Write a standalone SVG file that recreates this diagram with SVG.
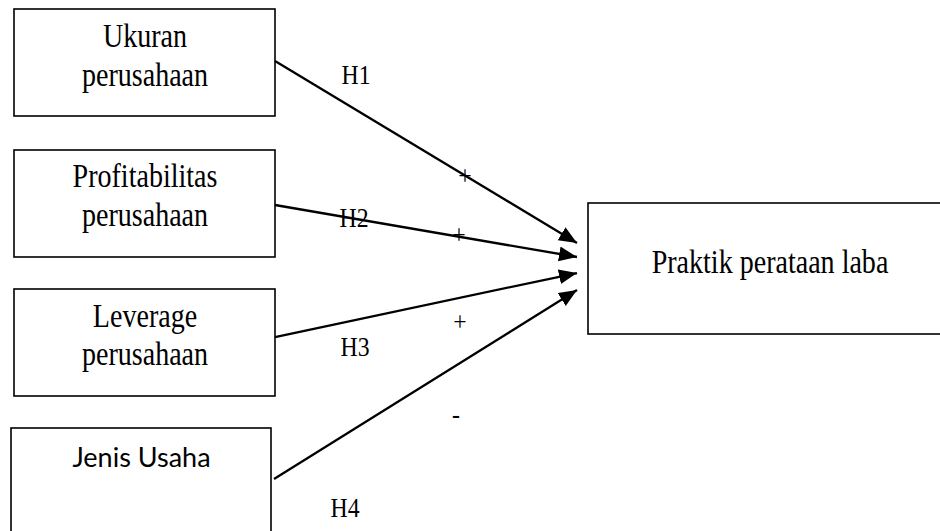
<svg xmlns="http://www.w3.org/2000/svg" width="940" height="531" viewBox="0 0 940 531">
<defs>
<style>
.box{fill:#fff;stroke:#000;stroke-width:1.6}
.t{font-family:"Liberation Serif","Times New Roman",serif;font-size:33px;fill:#000;text-anchor:middle}
.lbl{font-family:"Liberation Serif","Times New Roman",serif;font-size:27px;fill:#000;text-anchor:middle}
.s{font-family:"Lato","Liberation Sans",sans-serif;font-size:27px;fill:#000;text-anchor:middle}
.c{fill:none;stroke:#000;stroke-width:2.3}
</style>
<marker id="ah" markerUnits="userSpaceOnUse" markerWidth="19" markerHeight="16" refX="18" refY="7.5" orient="auto">
<path d="M0,0 L18,7.5 L0,15 Z" fill="#000"/>
</marker>
</defs>
<rect width="940" height="531" fill="#fff"/>
<g id="ukuran">
<rect class="box" x="14" y="9" width="261" height="107"/>
<text class="t" transform="translate(145 47) scale(0.85 1)">Ukuran</text>
<text class="t" transform="translate(145 86) scale(0.85 1)">perusahaan</text>
</g>
<g id="profitabilitas">
<rect class="box" x="14" y="150" width="261" height="107"/>
<text class="t" transform="translate(145 187) scale(0.85 1)">Profitabilitas</text>
<text class="t" transform="translate(145 226) scale(0.85 1)">perusahaan</text>
</g>
<g id="leverage">
<rect class="box" x="14" y="289" width="261" height="107"/>
<text class="t" transform="translate(145 327) scale(0.85 1)">Leverage</text>
<text class="t" transform="translate(145 365) scale(0.85 1)">perusahaan</text>
</g>
<g id="jenis">
<rect class="box" x="11" y="428" width="260" height="120"/>
<text class="s" x="141.5" y="467">Jenis Usaha</text>
</g>
<g id="praktik">
<rect class="box" x="588" y="203" width="370" height="131"/>
<text class="t" transform="translate(770 273) scale(0.85 1)">Praktik perataan laba</text>
</g>
<g id="connectors">
<path class="c" d="M275,61 L577,243" marker-end="url(#ah)"/>
<path class="c" d="M275,205 L577,257" marker-end="url(#ah)"/>
<path class="c" d="M275,337 L577,273" marker-end="url(#ah)"/>
<path class="c" d="M274,479 L577,290" marker-end="url(#ah)"/>
</g>
<g id="labels">
<text class="lbl" transform="translate(356 84) scale(0.88 1)">H1</text>
<text class="lbl" transform="translate(354 227) scale(0.88 1)">H2</text>
<text class="lbl" transform="translate(355 356) scale(0.88 1)">H3</text>
<text class="lbl" transform="translate(345 517) scale(0.88 1)">H4</text>
<text class="lbl" transform="translate(465 185) scale(0.88 1)">+</text>
<text class="lbl" transform="translate(459 244) scale(0.88 1)">+</text>
<text class="lbl" transform="translate(460 331) scale(0.88 1)">+</text>
<text class="lbl" transform="translate(456 423) scale(0.88 1)">-</text>
</g>
</svg>
